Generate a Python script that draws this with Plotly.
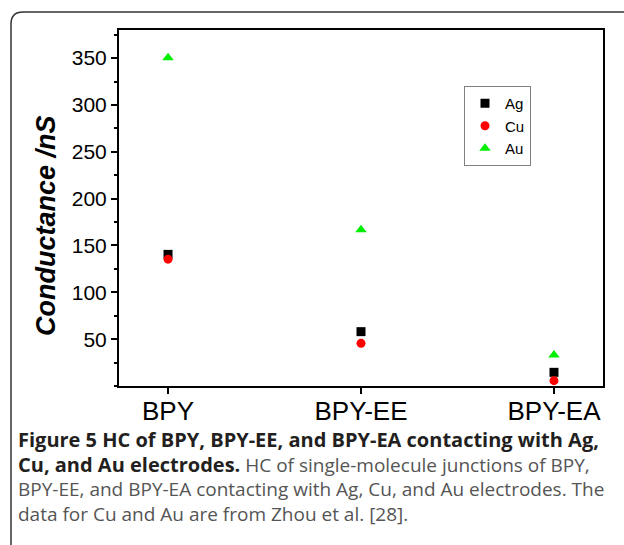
import plotly.graph_objects as go

categories = ["BPY", "BPY-EE", "BPY-EA"]
ag_values = [140.5, 58.0, 14.6]
cu_values = [135.4, 45.5, 5.7]
au_values = [350.4, 166.7, 33.1]
y_tick_values = [50, 100, 150, 200, 250, 300, 350]

W, H = 624, 545
L, R, T, B = 119, 603, 30, 386  # plot area in pixels


def px(x):
    return (x - L) / (R - L)


def py(y):
    return (B - y) / (B - T)


fig = go.Figure()
fig.add_trace(go.Scatter(x=categories, y=ag_values, mode="markers", name="Ag",
                         marker=dict(symbol="square", size=9, color="#000000")))
fig.add_trace(go.Scatter(x=categories, y=cu_values, mode="markers", name="Cu",
                         marker=dict(symbol="circle", size=9, color="#ff0000")))
fig.add_trace(go.Scatter(x=categories, y=au_values, mode="markers", name="Au",
                         marker=dict(symbol="triangle-up", size=10, color="#00ee00")))

axis_font = "Liberation Sans, Arial, sans-serif"

fig.update_layout(
    width=W, height=H,
    margin=dict(l=L, r=W - R, t=T, b=H - B, pad=0),
    paper_bgcolor="white", plot_bgcolor="white",
    showlegend=True,
    legend=dict(x=px(464), y=py(86), xanchor="left", yanchor="top",
                bordercolor="#808080", borderwidth=1, bgcolor="white",
                font=dict(family=axis_font, size=15, color="black"),
                itemwidth=30, tracegroupgap=0),
    xaxis=dict(type="category", range=[-0.254, 2.254], showline=True, mirror=True,
               linecolor="black", linewidth=2, ticks="outside", ticklen=6,
               tickwidth=1.5, tickcolor="black", showgrid=False, zeroline=False,
               ticklabelstandoff=-5,
               tickfont=dict(family=axis_font, size=26, color="black")),
    yaxis=dict(range=[0, 380], showline=True, mirror=True, linecolor="black",
               linewidth=2, ticks="outside", ticklen=6, tickwidth=1.5,
               tickcolor="black", tickvals=y_tick_values, showgrid=False,
               zeroline=False,
               tickfont=dict(family=axis_font, size=21, color="black"),
               minor=dict(dtick=25, tick0=0, ticks="outside", ticklen=3,
                          tickwidth=1.5, tickcolor="black", showgrid=False)),
)

# y-axis title
fig.add_annotation(text="<b><i>Conductance /nS</i></b>", xref="paper", yref="paper",
                   x=px(45.5), y=py(225.5), textangle=-90, showarrow=False,
                   xanchor="center", yanchor="middle",
                   font=dict(family=axis_font, size=27, color="black"))

# outer rounded frame
x0, y0, r = 11, 12, 12
path = (f"M {px(x0)},{py(560)} L {px(x0)},{py(y0 + r)} "
        f"Q {px(x0)},{py(y0)} {px(x0 + r)},{py(y0)} L {px(660)},{py(y0)}")
fig.add_shape(type="path", path=path, xref="paper", yref="paper",
              line=dict(color="#333333", width=1.5))

# caption
cap_font = "Open Sans, Noto Sans, sans-serif"
dark, grey = "#231f20", "#555555"
caption_lines = [
    ("Figure 5 HC of BPY, BPY-EE, and BPY-EA contacting with Ag,", ""),
    ("Cu, and Au electrodes.", " HC of single-molecule junctions of BPY,"),
    ("", "BPY-EE, and BPY-EA contacting with Ag, Cu, and Au electrodes. The"),
    ("", "data for Cu and Au are from Zhou et al. [28]."),
]
for i, (bold_part, plain_part) in enumerate(caption_lines):
    txt = ""
    if bold_part:
        txt += f"<span style='font-size:20px;color:{dark}'><b>{bold_part}</b></span>"
    if plain_part:
        txt += f"<span style='font-size:19px;color:{grey}'>{plain_part}</span>"
    fig.add_annotation(text=txt, xref="paper", yref="paper", x=px(17), y=py(439 + 25 * i),
                       xanchor="left", yanchor="middle", showarrow=False, align="left",
                       borderpad=0,
                       font=dict(family=cap_font, size=19, color=grey))

fig.write_html("out.html")
